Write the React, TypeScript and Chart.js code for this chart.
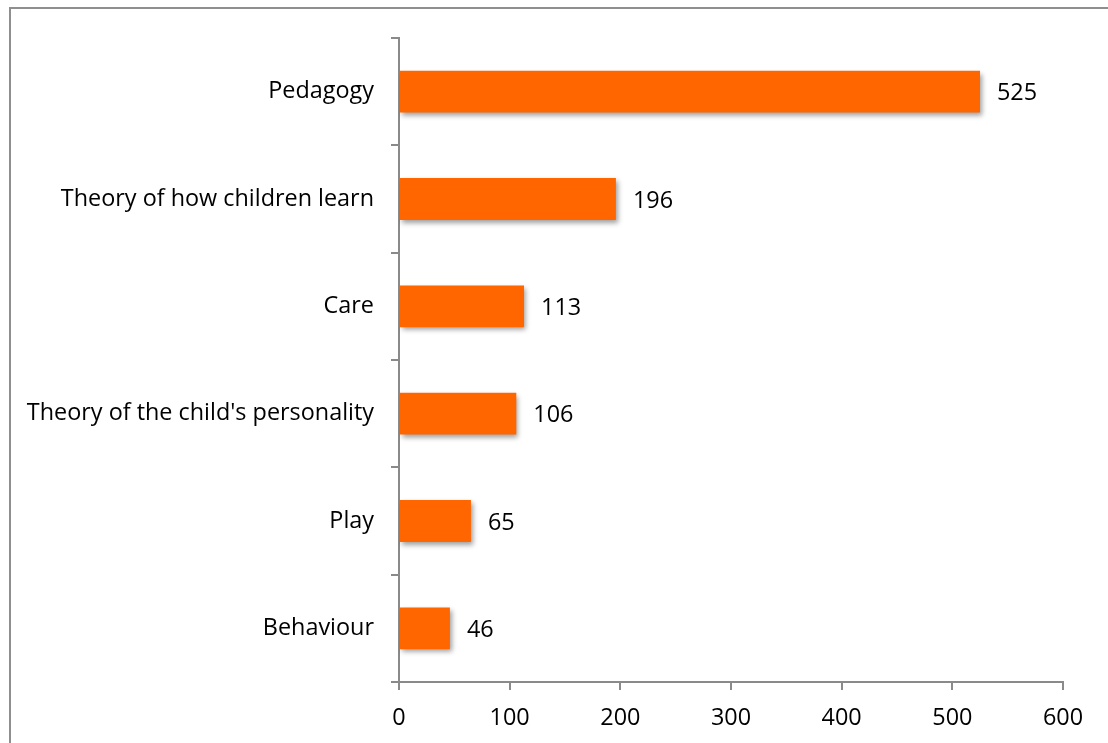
import React, { useEffect, useRef } from "react";
import { Chart, registerables } from "chart.js";

Chart.register(...registerables);

const categories = [
  "Pedagogy",
  "Theory of how children learn",
  "Care",
  "Theory of the child's personality",
  "Play",
  "Behaviour",
];
const counts = [525, 196, 113, 106, 65, 46];
const xTicks = [0, 100, 200, 300, 400, 500, 600];

const FONT = "'Open Sans', sans-serif";
const FONT_SIZE = 23.4;
const AXIS_GRAY = "#8a8a8a";

const shadowPlugin = {
  id: "barShadow",
  beforeDatasetsDraw(chart: any) {
    const ctx = chart.ctx;
    ctx.save();
    ctx.shadowColor = "rgba(0,0,0,0.38)";
    ctx.shadowBlur = 5;
    ctx.shadowOffsetX = 2;
    ctx.shadowOffsetY = 3;
  },
  afterDatasetsDraw(chart: any) {
    chart.ctx.restore();
  },
};

const valueLabelPlugin = {
  id: "valueLabels",
  afterDraw(chart: any) {
    const ctx = chart.ctx;
    const meta = chart.getDatasetMeta(0);
    ctx.save();
    ctx.font = `${FONT_SIZE}px ${FONT}`;
    ctx.fillStyle = "#000";
    ctx.textAlign = "left";
    ctx.textBaseline = "middle";
    meta.data.forEach((bar: any, i: number) => {
      ctx.fillText(String(chart.data.datasets[0].data[i]), bar.x + 17, bar.y + 2);
    });
    ctx.restore();
  },
};

export default function App() {
  const ref = useRef<HTMLCanvasElement | null>(null);
  useEffect(() => {
    if (!ref.current) return;
    const chart = new Chart(ref.current, {
      type: "bar",
      data: {
        labels: categories,
        datasets: [
          {
            data: counts,
            backgroundColor: "#ff6600",
            borderWidth: 0,
            categoryPercentage: 1,
            barPercentage: 0.39,
          },
        ],
      },
      options: {
        indexAxis: "y",
        animation: false,
        responsive: false,
        maintainAspectRatio: false,
        layout: { padding: { left: 0, right: 45, top: 38, bottom: 0 } },
        plugins: {
          legend: { display: false },
          tooltip: { enabled: false },
          title: { display: false },
        },
        scales: {
          x: {
            type: "linear",
            min: 0,
            max: 600,
            afterBuildTicks(scale: any) {
              scale.ticks = xTicks.map((v) => ({ value: v }));
            },
            afterFit(scale: any) {
              scale.height = 61;
            },
            grid: {
              drawOnChartArea: false,
              drawTicks: true,
              tickLength: 8,
              color: AXIS_GRAY,
              lineWidth: 2,
            },
            border: { display: true, color: AXIS_GRAY, width: 2 },
            ticks: {
              color: "#000",
              font: { family: FONT, size: FONT_SIZE },
              padding: 14,
              maxRotation: 0,
            },
          },
          y: {
            type: "category",
            afterFit(scale: any) {
              scale.width = 399;
            },
            grid: {
              offset: true,
              drawOnChartArea: false,
              drawTicks: true,
              tickLength: 8,
              color: AXIS_GRAY,
              lineWidth: 2,
            },
            border: { display: true, color: AXIS_GRAY, width: 2 },
            ticks: {
              color: "#000",
              font: { family: FONT, size: FONT_SIZE },
              padding: 17,
              autoSkip: false,
            },
          },
        },
      },
      plugins: [shadowPlugin, valueLabelPlugin],
    });
    return () => chart.destroy();
  }, []);

  return (
    <div style={{ position: "absolute", left: 0, top: 0, width: 1108, height: 743, overflow: "hidden", background: "#fff" }}>
      <div
        style={{
          position: "absolute",
          left: 9,
          top: 7,
          width: 1200,
          height: 800,
          borderLeft: "2px solid #8f8f8f",
          borderTop: "2px solid #8f8f8f",
        }}
      />
      <canvas ref={ref} width={1108} height={743} style={{ position: "absolute", left: 0, top: 0, width: 1108, height: 743 }} />
    </div>
  );
}
